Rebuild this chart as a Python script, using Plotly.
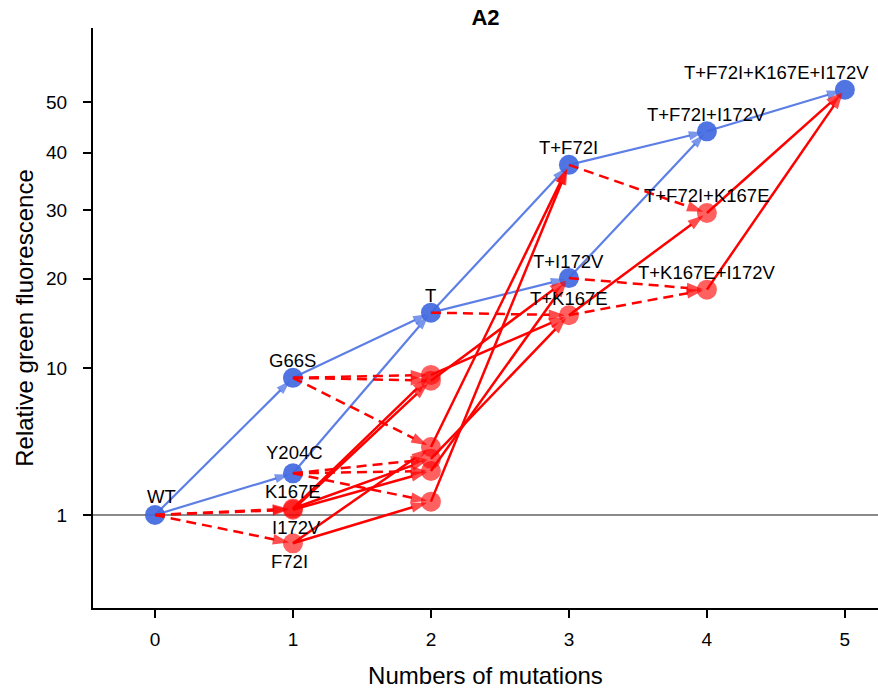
import numpy as np
import plotly.graph_objects as go

# Genotypes on the fluorescence landscape
genotypes = ["WT", "G66S", "Y204C", "K167E", "I172V", "F72I",
             "G66S+K167E", "G66S+I172V", "G66S+F72I",
             "Y204C+K167E", "Y204C+I172V", "Y204C+F72I", "T",
             "T+F72I", "T+I172V", "T+K167E",
             "T+F72I+I172V", "T+F72I+K167E", "T+K167E+I172V",
             "T+F72I+K167E+I172V"]
n_mutations = [0, 1, 1, 1, 1, 1, 2, 2, 2, 2, 2, 2, 2, 3, 3, 3, 4, 4, 4, 5]
fluorescence = [1.0, 9.1, 2.6, 1.2, 1.16, 0.34,
                9.36, 8.85, 4.0, 3.33, 2.71, 1.43, 15.8,
                37.8, 20.1, 15.5, 44.1, 29.6, 18.6, 52.6]
# genotypes on the highlighted (blue) trajectory
main_path = ["WT", "G66S", "Y204C", "T", "T+F72I", "T+I172V",
             "T+F72I+I172V", "T+F72I+K167E+I172V"]
# genotypes that get a text label
labelled = ["WT", "G66S", "Y204C", "K167E", "I172V", "F72I", "T",
            "T+F72I", "T+I172V", "T+K167E", "T+F72I+I172V",
            "T+F72I+K167E", "T+K167E+I172V", "T+F72I+K167E+I172V"]

# Single-mutation steps (source, target)
blue_steps = [("WT", "G66S"), ("WT", "Y204C"), ("G66S", "T"), ("Y204C", "T"),
              ("T", "T+F72I"), ("T", "T+I172V"),
              ("T+F72I", "T+F72I+I172V"), ("T+I172V", "T+F72I+I172V"),
              ("T+F72I+I172V", "T+F72I+K167E+I172V")]
red_solid_steps = [("K167E", "G66S+K167E"), ("K167E", "Y204C+K167E"),
                   ("I172V", "G66S+I172V"), ("I172V", "Y204C+I172V"),
                   ("F72I", "G66S+F72I"), ("F72I", "Y204C+F72I"),
                   ("G66S+F72I", "T+F72I"), ("Y204C+F72I", "T+F72I"),
                   ("G66S+I172V", "T+I172V"), ("Y204C+I172V", "T+I172V"),
                   ("G66S+K167E", "T+K167E"), ("Y204C+K167E", "T+K167E"),
                   ("T+K167E", "T+F72I+K167E"),
                   ("T+F72I+K167E", "T+F72I+K167E+I172V"),
                   ("T+K167E+I172V", "T+F72I+K167E+I172V")]
red_dashed_steps = [("WT", "K167E"), ("WT", "I172V"), ("WT", "F72I"),
                    ("G66S", "G66S+K167E"), ("G66S", "G66S+I172V"),
                    ("G66S", "G66S+F72I"),
                    ("Y204C", "Y204C+K167E"), ("Y204C", "Y204C+I172V"),
                    ("Y204C", "Y204C+F72I"),
                    ("T", "T+K167E"), ("T+F72I", "T+F72I+K167E"),
                    ("T+I172V", "T+K167E+I172V"),
                    ("T+K167E", "T+K167E+I172V")]

y_ticks = [1, 10, 20, 30, 40, 50]
x_ticks = [0, 1, 2, 3, 4, 5]

# ---- figure geometry (square-root scaled fluorescence axis) ----
WIDTH, HEIGHT = 878, 692
MARGIN = dict(l=93, r=0, t=28, b=84)
X_RANGE = [-0.449, 5.24]
Y_RANGE = [-0.368, 8.16]
px_x = (WIDTH - MARGIN["l"] - MARGIN["r"]) / (X_RANGE[1] - X_RANGE[0])
px_y = (HEIGHT - MARGIN["t"] - MARGIN["b"]) / (Y_RANGE[1] - Y_RANGE[0])

BLUE_LINE = "rgba(65,105,225,0.85)"
BLUE_HEAD = "#4169e1"
BLUE_NODE = "rgba(65,105,225,0.92)"
RED_LINE = "#ff0000"
RED_NODE = "rgba(255,0,0,0.62)"
FONT = "Liberation Sans, Arial, Helvetica, sans-serif"

pos = {g: (x, np.sqrt(v)) for g, x, v in zip(genotypes, n_mutations, fluorescence)}

fig = go.Figure()

# nodes
for members, color in [([g for g in genotypes if g in main_path], BLUE_NODE),
                       ([g for g in genotypes if g not in main_path], RED_NODE)]:
    fig.add_trace(go.Scatter(
        x=[pos[g][0] for g in members], y=[pos[g][1] for g in members],
        mode="markers", hoverinfo="text", text=members,
        marker=dict(size=20, color=color, line=dict(width=0))))


def add_step(src, dst, color, head_color, width, dash, head):
    x0, y0 = pos[src]
    x1, y1 = pos[dst]
    dx, dy = (x1 - x0) * px_x, (y1 - y0) * px_y
    length = np.hypot(dx, dy)
    gap = 4.0
    xe = x1 - (x1 - x0) * gap / length
    ye = y1 - (y1 - y0) * gap / length
    fig.add_trace(go.Scatter(
        x=[x0, xe], y=[y0, ye], mode="lines+markers", hoverinfo="skip",
        line=dict(color=color, width=width, dash=dash),
        marker=dict(symbol=["circle", "arrow"], size=[0, head], color=head_color,
                    angleref="previous", line=dict(width=0))))


for s, t in blue_steps:
    add_step(s, t, BLUE_LINE, BLUE_HEAD, 2.2, "solid", 15)
for s, t in red_solid_steps:
    add_step(s, t, RED_LINE, RED_LINE, 2.5, "solid", 17)
for s, t in red_dashed_steps:
    add_step(s, t, RED_LINE, RED_LINE, 2.5, "10px,6px", 17)

# node labels
label_shift = {"I172V": (4, -18), "F72I": (-3, -18), "WT": (7, 18),
               "Y204C": (2, 21), "T+F72I+K167E+I172V": (-68, 17)}
for g in labelled:
    xs, ys = label_shift.get(g, (0, 17))
    fig.add_annotation(x=pos[g][0], y=pos[g][1], text=g, showarrow=False,
                       xshift=xs, yshift=ys, xanchor="center", yanchor="middle",
                       font=dict(family=FONT, size=18.5, color="black"))

# reference level of wild type
fig.add_shape(type="line", xref="paper", x0=0, x1=1, yref="y", y0=1, y1=1,
              line=dict(color="#8a8a8a", width=2), layer="below")

fig.update_layout(
    width=WIDTH, height=HEIGHT, margin=MARGIN,
    paper_bgcolor="white", plot_bgcolor="white", showlegend=False,
    font=dict(family=FONT, color="black"),
    title=dict(text="<b>A2</b>", x=0.5, xref="paper", xanchor="center",
               y=1 - 17 / HEIGHT, yref="container", yanchor="middle",
               font=dict(family=FONT, size=22, color="black")),
    xaxis=dict(range=X_RANGE, tickvals=x_ticks, ticktext=[str(t) for t in x_ticks],
               ticks="outside", ticklen=8, tickwidth=2, tickcolor="black",
               showline=True, linewidth=2, linecolor="black",
               showgrid=False, zeroline=False, ticklabelstandoff=5,
               tickfont=dict(size=19),
               title=dict(text="Numbers of mutations", font=dict(size=24),
                          standoff=18)),
    yaxis=dict(range=Y_RANGE, tickvals=np.sqrt(y_ticks).tolist(),
               ticktext=[str(t) for t in y_ticks],
               ticks="outside", ticklen=8, tickwidth=2, tickcolor="black",
               showline=True, linewidth=2, linecolor="black",
               showgrid=False, zeroline=False, ticklabelstandoff=12,
               tickfont=dict(size=19),
               title=dict(text="Relative green fluorescence", font=dict(size=24),
                          standoff=6)),
)

fig.write_html("out.html")
